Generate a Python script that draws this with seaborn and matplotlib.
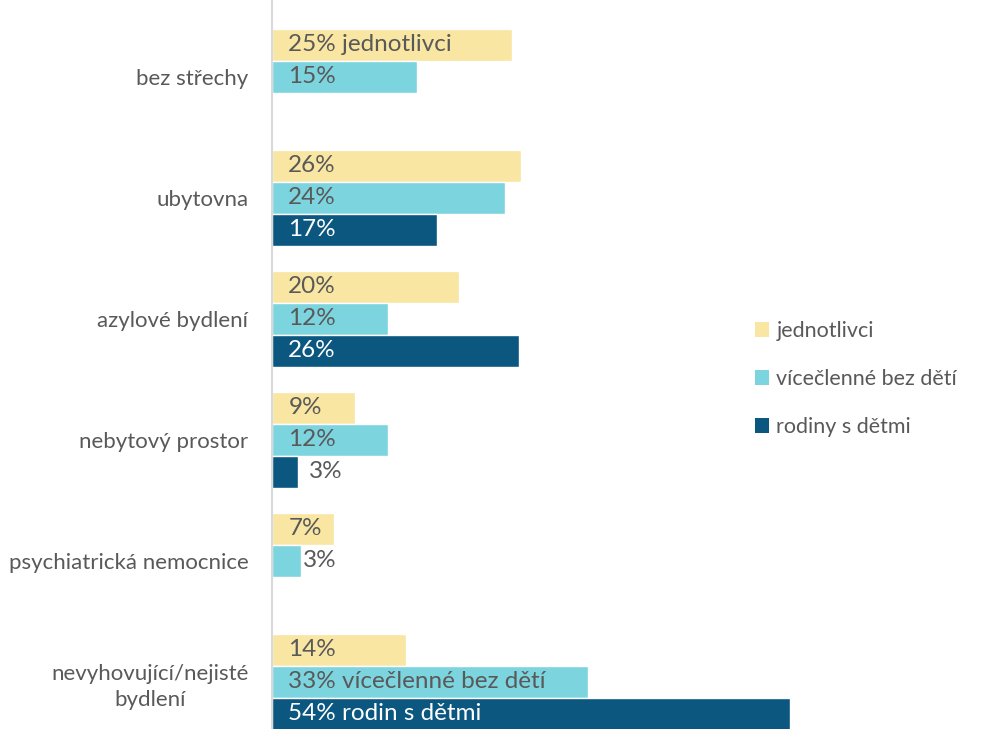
import matplotlib
matplotlib.use("Agg")
import matplotlib.pyplot as plt
import seaborn as sns
import pandas as pd
import numpy as np
from matplotlib.patches import Patch

categories = ["bez střechy", "ubytovna", "azylové bydlení", "nebytový prostor",
              "psychiatrická nemocnice", "nevyhovující/nejisté\nbydlení"]
series = ["jednotlivci", "vícečlenné bez dětí", "rodiny s dětmi"]
jednotlivci = [25.0, 26.0, 19.5, 8.7, 6.5, 14.0]
vicclenne = [15.1, 24.3, 12.1, 12.1, 3.0, 33.0]
rodiny = [np.nan, 17.2, 25.8, 2.7, np.nan, 54.0]
label_jednotlivci = ["25% jednotlivci", "26%", "20%", "9%", "7%", "14%"]
label_vicclenne = ["15%", "24%", "12%", "12%", "3%", "33% vícečlenné bez dětí"]
label_rodiny = ["", "17%", "26%", "3%", "", "54% rodin s dětmi"]
colors = ["#F8E6A2", "#7CD4DF", "#0B577F"]

sns.set_theme(style="white")
plt.rcParams["font.family"] = ["Lato", "DejaVu Sans"]

rows = []
for s, vals in zip(series, [jednotlivci, vicclenne, rodiny]):
    for c, v in zip(categories, vals):
        rows.append({"kategorie": c, "skupina": s, "hodnota": v})
df = pd.DataFrame(rows)

fig = plt.figure(figsize=(9.86, 7.29), dpi=100)
ax = fig.add_axes([272 / 986, 0, 528 / 986, 1])
sns.barplot(data=df, y="kategorie", x="hodnota", hue="skupina", order=categories,
            hue_order=series, palette=colors, orient="h", width=0.795,
            ax=ax, legend=False, saturation=1)

px = 9.59  # pixels per percent
ax.set_xlim(0, 528 / px)
ax.set_ylim(5.39, -0.636)
ax.set_xlabel("")
ax.set_ylabel("")
ax.set_xticks([])
for sp in ["top", "right", "bottom"]:
    ax.spines[sp].set_visible(False)
ax.spines["left"].set_color("#D9D9D9")
ax.spines["left"].set_linewidth(1.5)
ax.tick_params(axis="y", length=0, pad=17, labelsize=16, labelcolor="#595959")
for t in ax.get_yticklabels():
    t.set_multialignment("center")
    t.set_linespacing(1.4)

gray = "#595959"
bw = 0.795 / 3
for si, (vals, labs) in enumerate(zip([jednotlivci, vicclenne, rodiny],
                                       [label_jednotlivci, label_vicclenne, label_rodiny])):
    for ci, (v, lab) in enumerate(zip(vals, labs)):
        if not lab or np.isnan(v):
            continue
        y = ci + (si - 1) * bw
        if v < 5:
            x = v + (0.2 if si == 1 else 1.1)
            col = gray
        else:
            x = 1.7
            col = "white" if si == 2 else gray
        ax.text(x, y, lab, va="center", ha="left", fontsize=17.5, color=col)

handles = [Patch(facecolor=c, edgecolor="none") for c in colors]
fig.legend(handles, series, loc="center left", bbox_to_anchor=(744 / 986, 1 - 379 / 729),
           frameon=False, fontsize=15.5, labelcolor=gray, handlelength=0.65,
           handleheight=0.65, handletextpad=0.35, labelspacing=1.3, borderpad=0)

fig.savefig("out.png", dpi=100)
